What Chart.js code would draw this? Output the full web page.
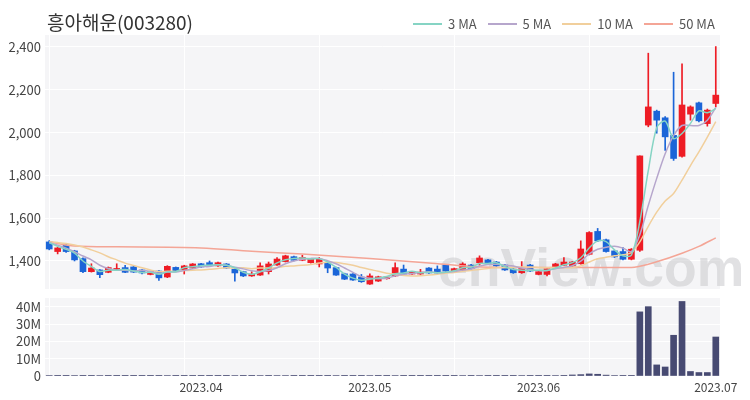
<!DOCTYPE html>
<html><head><meta charset="utf-8">
<script src="https://cdn.jsdelivr.net/npm/chart.js@4/dist/chart.umd.min.js"></script>
<style>
body{margin:0;background:#fff;width:750px;height:400px;overflow:hidden;position:relative;font-family:"Noto Sans CJK KR","Noto Sans",sans-serif;}
#title{position:absolute;left:47px;top:9px;font-size:19px;color:#333;line-height:26px;}
#legend{position:absolute;left:413px;top:15px;font-size:13px;color:#555;display:flex;align-items:center;line-height:18px;}
.li{display:flex;align-items:center;margin-right:11px}
.ln{display:inline-block;width:29px;height:2px;margin-right:6px}
#w1{position:absolute;left:0;top:0;width:750px;height:290px}
#w2{position:absolute;left:0;top:290px;width:750px;height:110px}
</style></head>
<body>
<div id="w1"><canvas id="c1" width="750" height="290"></canvas></div>
<div id="w2"><canvas id="c2" width="750" height="110"></canvas></div>
<div id="title">흥아해운(003280)</div>
<div id="legend"></div>
<script>
const dates = ['2023-03-08','2023-03-09','2023-03-10','2023-03-13','2023-03-14','2023-03-15','2023-03-16','2023-03-17','2023-03-20','2023-03-21','2023-03-22','2023-03-23','2023-03-24','2023-03-27','2023-03-28','2023-03-29','2023-03-30','2023-03-31',
'2023-04-03','2023-04-04','2023-04-05','2023-04-06','2023-04-07','2023-04-10','2023-04-11','2023-04-12','2023-04-13','2023-04-14','2023-04-17','2023-04-18','2023-04-19','2023-04-20','2023-04-21','2023-04-24','2023-04-25','2023-04-26','2023-04-27','2023-04-28',
'2023-05-02','2023-05-03','2023-05-04','2023-05-08','2023-05-09','2023-05-10','2023-05-11','2023-05-12','2023-05-15','2023-05-16','2023-05-17','2023-05-18','2023-05-19','2023-05-22','2023-05-23','2023-05-24','2023-05-25','2023-05-26','2023-05-30','2023-05-31',
'2023-06-01','2023-06-02','2023-06-05','2023-06-07','2023-06-08','2023-06-09','2023-06-12','2023-06-13','2023-06-14','2023-06-15','2023-06-16','2023-06-19','2023-06-20','2023-06-21','2023-06-22','2023-06-23','2023-06-26','2023-06-27','2023-06-28','2023-06-29','2023-06-30',
'2023-07-03'];

const opens  = [1489,1444,1475,1447,1411,1350,1358,1347,1358,1369,1372,1358,1337,1353,1325,1370,1358,1367,1387,1392,1377,1386,1362,1350,1330,1334,1350,1381,1397,1420,1403,1392,1386,1392,1369,1340,1339,1325,1292,1306,1317,1330,1362,1339,1339,1367,1362,1381,1353,1358,1381,1392,1405,1395,1381,1362,1345,1381,1337,1337,1369,1380,1377,1387,1431,1538,1499,1447,1444,1408,1450,2035,2100,2069,1987,1889,2086,2139,2042,2136];
const highs  = [1495,1465,1480,1450,1415,1387,1360,1372,1387,1380,1375,1360,1352,1355,1378,1372,1380,1388,1389,1400,1395,1388,1365,1352,1350,1391,1395,1416,1427,1423,1427,1412,1416,1395,1372,1343,1341,1337,1340,1329,1328,1391,1381,1351,1361,1369,1377,1384,1367,1392,1384,1424,1408,1398,1384,1365,1397,1384,1352,1367,1389,1416,1398,1494,1537,1552,1502,1450,1463,1458,1891,2371,2105,2075,2282,2321,2125,2142,2110,2402];
const lows   = [1452,1433,1440,1400,1345,1348,1322,1345,1355,1345,1346,1340,1335,1309,1322,1352,1339,1365,1370,1379,1375,1365,1306,1327,1328,1332,1339,1379,1395,1400,1401,1390,1372,1345,1332,1313,1309,1300,1290,1304,1315,1328,1337,1337,1337,1342,1342,1350,1350,1356,1362,1381,1384,1375,1356,1342,1342,1350,1335,1330,1367,1378,1375,1385,1428,1491,1441,1416,1405,1405,1445,2027,1997,1917,1870,1885,2058,2050,2030,2120];
const closes = [1456,1461,1444,1405,1350,1367,1336,1369,1365,1347,1348,1344,1350,1321,1375,1355,1377,1386,1372,1381,1392,1367,1344,1330,1339,1377,1386,1409,1424,1403,1416,1409,1409,1367,1334,1315,1311,1303,1330,1326,1325,1369,1339,1348,1348,1344,1344,1353,1364,1386,1364,1414,1386,1377,1358,1345,1369,1353,1350,1364,1386,1395,1395,1456,1533,1494,1444,1419,1408,1455,1891,2120,2058,1980,1879,2129,2120,2055,2105,2175];
// volume in millions of shares
const volume = [0.3,0.2,0.2,0.3,0.4,0.2,0.3,0.2,0.2,0.2,0.1,0.2,0.1,0.2,0.3,0.2,0.2,0.2,0.2,0.2,0.2,0.1,0.3,0.2,0.2,0.3,0.2,0.3,0.3,0.2,0.2,0.2,0.2,0.2,0.3,0.2,0.2,0.2,0.3,0.2,0.2,0.3,0.2,0.1,0.1,0.2,0.2,0.2,0.2,0.3,0.2,0.3,0.2,0.2,0.2,0.2,0.3,0.2,0.2,0.2,0.3,0.4,0.6,0.8,1.2,1.0,0.5,0.3,0.2,0.4,37,40,6.4,5.2,23.5,43,2.6,2.0,2.0,22.5];

const ma3  = [1486,1468,1454,1437,1400,1374,1351,1357,1357,1360,1353,1346,1347,1338,1349,1350,1369,1373,1378,1380,1382,1380,1368,1347,1338,1349,1367,1391,1406,1412,1414,1409,1411,1395,1370,1339,1320,1310,1315,1320,1327,1340,1344,1352,1345,1347,1345,1347,1354,1368,1371,1388,1388,1392,1374,1360,1357,1356,1357,1356,1367,1382,1392,1415,1461,1494,1490,1452,1424,1427,1585,1822,2023,2053,1972,1996,2043,2101,2093,2112];
const ma5  = [1486,1474,1460,1443,1423,1405,1380,1365,1357,1357,1353,1355,1351,1342,1348,1349,1356,1363,1373,1374,1382,1380,1371,1363,1354,1351,1355,1368,1387,1400,1408,1412,1412,1401,1387,1367,1347,1326,1319,1317,1319,1331,1338,1341,1346,1350,1345,1347,1351,1358,1362,1376,1383,1385,1380,1376,1367,1360,1355,1356,1364,1370,1378,1399,1433,1455,1464,1469,1460,1444,1523,1659,1786,1901,1986,2033,2033,2033,2058,2117];
const ma10 = [1489,1486,1482,1475,1465,1452,1438,1420,1405,1390,1379,1368,1358,1350,1352,1351,1355,1357,1358,1361,1365,1368,1367,1368,1364,1367,1367,1370,1375,1377,1380,1384,1390,1394,1393,1387,1380,1369,1360,1352,1343,1339,1332,1330,1331,1334,1338,1343,1346,1352,1356,1360,1365,1368,1369,1369,1372,1372,1370,1368,1370,1368,1369,1377,1395,1410,1417,1424,1429,1439,1489,1562,1628,1680,1715,1778,1846,1910,1979,2051];
// 50-day MA read at sparse points: [candle index, value]
const ma50Points = [[0,1489],[3,1470],[8,1466],[18,1461],[24,1445],[30,1433],[38,1412],[45,1391],[50,1374],[55,1369],[62,1369],[69,1369],[70,1375],[72,1396],[75,1436],[77,1468],[79,1508]];

const priceTicks = [1400,1600,1800,2000,2200,2400];
const volumeTicks = [0,10,20,30,40];
const monthStarts = ['2023-04-03','2023-05-02','2023-06-01','2023-07-03'];
const monthLabels = ['2023.04','2023.05','2023.06','2023.07'];

const maNames = ['3 MA','5 MA','10 MA','50 MA'];
const maColors = ['#86d4c4','#b6a6cc','#f1cf9c','#f4a596'];
const WATERMARK = 'enView.com';

const UP = '#ee1c25', DOWN = '#1b65d8', VOL = '#474a72', PLOT_BG = '#f5f5f7';
const candleColors = closes.map((c,i)=> c>=opens[i] ? UP : DOWN);

const bgPlugin = {
  id:'bg',
  beforeDraw(chart){
    const a = chart.chartArea, ctx = chart.ctx;
    ctx.save(); ctx.fillStyle = PLOT_BG; ctx.fillRect(a.left, a.top, a.right-a.left, a.bottom-a.top); ctx.restore();
  }
};
const watermarkPlugin = {
  id:'wm',
  beforeDatasetsDraw(chart){
    const ctx = chart.ctx;
    ctx.save();
    let size = 56;
    ctx.font = 'bold ' + size + 'px "Liberation Sans", Arial, sans-serif';
    const w = ctx.measureText(WATERMARK).width;
    size = size * 306 / w;
    ctx.font = 'bold ' + size.toFixed(1) + 'px "Liberation Sans", Arial, sans-serif';
    ctx.fillStyle = 'rgba(200,200,204,0.55)';
    ctx.textBaseline = 'alphabetic';
    ctx.fillText(WATERMARK, 438, 286);
    ctx.restore();
  }
};
const FONT = '"Noto Sans CJK KR","Noto Sans",sans-serif';
Chart.defaults.font.family = FONT;

const gridColor = c => (c.index % 16 === 0) ? '#ffffff' : 'rgba(0,0,0,0)';
const fitY = s => { s.width = 45; s.paddingTop = 0; s.paddingBottom = 0; };

// legend (HTML)
const lg = document.getElementById('legend');
maNames.forEach((n,i)=>{
  const d = document.createElement('div'); d.className='li';
  d.innerHTML = '<span class="ln" style="background:'+maColors[i]+'"></span><span>'+n+'</span>';
  lg.appendChild(d);
});

const ma50Data = ma50Points.map(p=>({x:dates[p[0]], y:p[1]}));

new Chart(document.getElementById('c1'), {
  type:'bar',
  data:{
    labels:dates,
    datasets:[
      {type:'line', label:maNames[0], data:ma3,  borderColor:maColors[0], borderWidth:1.5, pointRadius:0, tension:0.3, order:1},
      {type:'line', label:maNames[1], data:ma5,  borderColor:maColors[1], borderWidth:1.5, pointRadius:0, tension:0.3, order:2},
      {type:'line', label:maNames[2], data:ma10, borderColor:maColors[2], borderWidth:1.5, pointRadius:0, tension:0.3, order:3},
      {type:'line', label:maNames[3], data:ma50Data, borderColor:maColors[3], borderWidth:1.5, pointRadius:0, tension:0.4, cubicInterpolationMode:'monotone', spanGaps:true, order:4},
      {label:'body', data:dates.map((d,i)=>[opens[i],closes[i]]), backgroundColor:candleColors, barThickness:6, grouped:false, minBarLength:1, order:5},
      {label:'wick', data:dates.map((d,i)=>[lows[i],highs[i]]), backgroundColor:candleColors, barThickness:1, grouped:false, order:6}
    ]
  },
  options:{
    responsive:false, animation:false, events:[],
    layout:{padding:{left:0,right:30,top:35,bottom:1}},
    plugins:{legend:{display:false}, tooltip:{enabled:false}},
    scales:{
      x:{offset:true, afterFit:s=>{s.height=0; s.paddingLeft=0; s.paddingRight=0;}, grid:{offset:false, color:gridColor, drawTicks:false}, border:{display:false}, ticks:{display:false, autoSkip:false}},
      y:{min:1269, max:2456,
         afterFit:fitY,
         afterBuildTicks:s=>{s.ticks = priceTicks.map(v=>({value:v}));},
         grid:{color:'#ffffff', drawTicks:false}, border:{display:false},
         ticks:{autoSkip:false, padding:4, color:'#444', font:{size:13}, callback:v=>Number(v).toLocaleString('en-US')}}
    }
  },
  plugins:[bgPlugin, watermarkPlugin]
});

new Chart(document.getElementById('c2'), {
  type:'bar',
  data:{labels:dates, datasets:[{label:'Volume', data:volume, backgroundColor:VOL, barThickness:6}]},
  options:{
    responsive:false, animation:false, events:[],
    layout:{padding:{left:0,right:30,top:8,bottom:0}},
    plugins:{legend:{display:false}, tooltip:{enabled:false}},
    scales:{
      x:{offset:true, afterFit:s=>{s.height=24; s.paddingLeft=0; s.paddingRight=0;},
         grid:{offset:false, color:gridColor, drawTicks:false}, border:{display:false},
         ticks:{autoSkip:false, maxRotation:0, minRotation:0, padding:4, color:'#444', font:{size:12},
           callback:(v,i)=>{const k = monthStarts.indexOf(dates[i]); return k>=0 ? monthLabels[k] : '';}}},
      y:{min:0, max:45,
         afterFit:fitY,
         afterBuildTicks:s=>{s.ticks = volumeTicks.map(v=>({value:v}));},
         grid:{color:'#ffffff', drawTicks:false}, border:{display:false},
         ticks:{autoSkip:false, padding:4, color:'#444', font:{size:13}, callback:v=> v===0 ? '0' : v+'M'}}
    }
  },
  plugins:[bgPlugin]
});
</script>
</body></html>
